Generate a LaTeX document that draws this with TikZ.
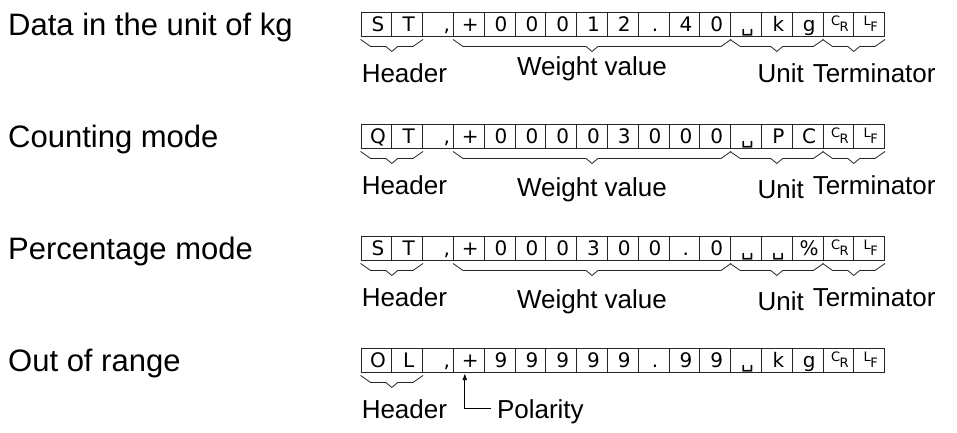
\documentclass[tikz,border=0pt]{standalone}
\usepackage{fontspec}
\setmainfont{Liberation Sans}
\newfontfamily\cellfamily{DejaVu Sans}
\usepackage{tikz}
\usetikzlibrary{calc,arrows.meta}

\newcommand\spc{␣}
\newcommand\crchar{{\fontsize{13pt}{13pt}\selectfont\raisebox{6pt}{C}\kern-0.5pt R}}
\newcommand\lfchar{{\fontsize{13pt}{13pt}\selectfont\raisebox{6pt}{L}\kern-0.5pt F}}
\newcommand\cellbrace[2]{%
  \draw[bracepath] ($(#1.south west)+(0,3)$) -- ++(10,7)
    -- ($(#1.south west)!0.5!(#2.south east)+(-6,10)$) -- ++(6,5) -- ++(6,-5)
    -- ($(#2.south east)+(-10,10)$) -- ++(10,-7);}

\begin{document}
\begin{tikzpicture}[>=Latex,x=1pt,y=-1pt,
  cell/.style={draw=black!85,line width=0.9pt,inner sep=0pt,minimum width=30.8pt,minimum height=24pt,
    text height=15.6pt,text depth=1pt,font=\cellfamily\fontsize{20pt}{20pt}\selectfont,
    execute at begin node={\hspace*{3pt}}},
  bracepath/.style={black!85,line width=0.8pt},
  lbl/.style={inner sep=0pt,font=\fontsize{26pt}{30pt}\selectfont},
  title/.style={anchor=base west,inner sep=0pt,font=\fontsize{31pt}{36pt}\selectfont}]
  \useasboundingbox (0,0) rectangle (957,432);
  % Data in the unit of kg
  \node[title] (kgtitle) at (8,35) {Data in the unit of kg};
  \foreach \c [count=\i] in {S,T,{\hphantom{0}\kern2pt,},+,0,0,0,1,2,.,4,0,\spc,k,g,\crchar,\lfchar}
    \node[cell] (kg\i) at ({361+30.8*(\i-0.5)},24) {\c};
  \cellbrace{kg1}{kg2}
  \cellbrace{kg4}{kg12}
  \cellbrace{kg13}{kg15}
  \cellbrace{kg16}{kg17}
  \node[lbl,anchor=west] (kghead) at ($(kg1.south west)+(1,37)$) {Header};
  \node[lbl] (kgweight) at ($(kg4.south west)!0.5!(kg12.south east)+(0,32)$) {Weight value};
  \node[lbl] (kgunit) at ($(kg13.south west)!0.5!(kg15.south east)+(4,37)$) {Unit};
  \node[lbl,anchor=west] (kgterm) at ($(kg16.south west)+(-10,37)$) {Terminator};
  % Counting mode
  \node[title] (pctitle) at (8,147) {Counting mode};
  \foreach \c [count=\i] in {Q,T,{\hphantom{0}\kern2pt,},+,0,0,0,0,3,0,0,0,\spc,P,C,\crchar,\lfchar}
    \node[cell] (pc\i) at ({361+30.8*(\i-0.5)},136) {\c};
  \cellbrace{pc1}{pc2}
  \cellbrace{pc4}{pc12}
  \cellbrace{pc13}{pc15}
  \cellbrace{pc16}{pc17}
  \node[lbl,anchor=west] (pchead) at ($(pc1.south west)+(1,37)$) {Header};
  \node[lbl] (pcweight) at ($(pc4.south west)!0.5!(pc12.south east)+(0,41)$) {Weight value};
  \node[lbl] (pcunit) at ($(pc13.south west)!0.5!(pc15.south east)+(4,41)$) {Unit};
  \node[lbl,anchor=west] (pcterm) at ($(pc16.south west)+(-10,37)$) {Terminator};
  % Percentage mode
  \node[title] (pcttitle) at (8,259) {Percentage mode};
  \foreach \c [count=\i] in {S,T,{\hphantom{0}\kern2pt,},+,0,0,0,3,0,0,.,0,\spc,\spc,\%,\crchar,\lfchar}
    \node[cell] (pct\i) at ({361+30.8*(\i-0.5)},248) {\c};
  \cellbrace{pct1}{pct2}
  \cellbrace{pct4}{pct12}
  \cellbrace{pct13}{pct15}
  \cellbrace{pct16}{pct17}
  \node[lbl,anchor=west] (pcthead) at ($(pct1.south west)+(1,37)$) {Header};
  \node[lbl] (pctweight) at ($(pct4.south west)!0.5!(pct12.south east)+(0,41)$) {Weight value};
  \node[lbl] (pctunit) at ($(pct13.south west)!0.5!(pct15.south east)+(4,41)$) {Unit};
  \node[lbl,anchor=west] (pctterm) at ($(pct16.south west)+(-10,37)$) {Terminator};
  % Out of range
  \node[title] (oltitle) at (8,371) {Out of range};
  \foreach \c [count=\i] in {O,L,{\hphantom{0}\kern2pt,},+,9,9,9,9,9,.,9,9,\spc,k,g,\crchar,\lfchar}
    \node[cell] (ol\i) at ({361+30.8*(\i-0.5)},360) {\c};
  \cellbrace{ol1}{ol2}
  \node[lbl,anchor=west] (olhead) at ($(ol1.south west)+(1,37)$) {Header};
  \coordinate (olsign) at ($(ol4.south)+(-4,1)$);
  \node[lbl,anchor=west] (olpolarity) at ($(ol4.south)+(28,39)$) {Polarity};
  \draw[->,line width=0.8pt] ([xshift=-6pt,yshift=3pt]olpolarity.west) -| (olsign);
\end{tikzpicture}
\end{document}
